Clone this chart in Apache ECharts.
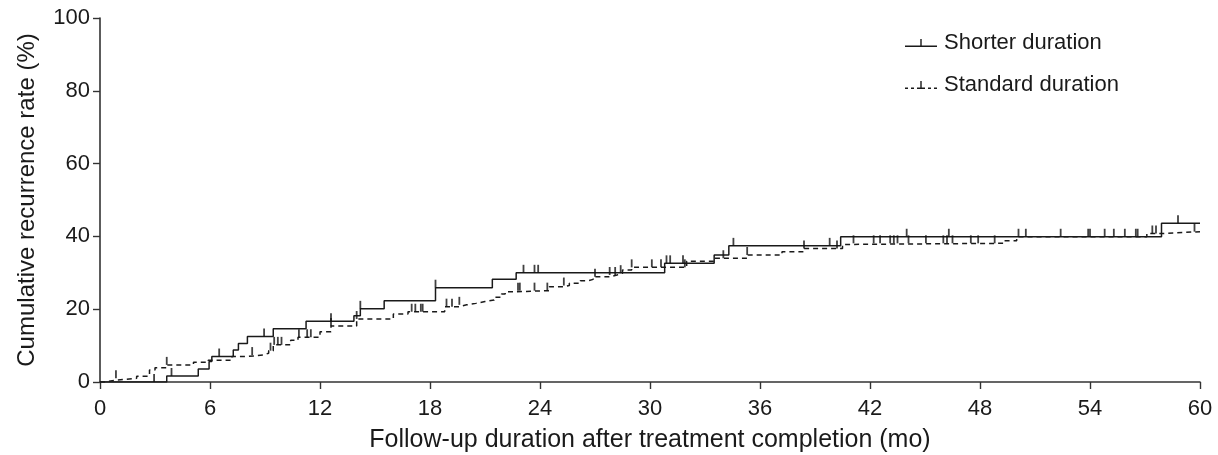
<!DOCTYPE html>
<html>
<head>
<meta charset="utf-8">
<script src="https://cdn.jsdelivr.net/npm/echarts@6/dist/echarts.min.js"></script>
<style>
  html, body { margin: 0; padding: 0; background: #fff; }
  #chart { width: 1218px; height: 455px; }
</style>
</head>
<body>
<div id="chart"></div>
<script>
// cumulative recurrence (%) by follow-up month
var shorterTime = [0, 3.64, 5.36, 5.95, 6.1, 7.27, 7.55, 8.04, 9.45, 11.24, 13.85, 14.2, 15.5, 18.3, 21.4, 22.7, 30.8, 33.5, 34.3, 40.4, 57.9, 60];
var shorterRate = [0, 1.65, 3.6, 5.6, 7.0, 8.8, 10.6, 12.5, 14.6, 16.7, 18.2, 20.1, 22.3, 25.9, 28.2, 30.0, 32.6, 34.9, 37.4, 39.9, 43.6, 43.6];
var shorterCensor = [2.95, 3.9, 6.5, 8.95, 12.6, 14.2, 18.3, 23.1, 23.7, 23.9, 30.9, 31.1, 31.8, 34.55, 39.8,
    44.0, 46.3, 50.1, 50.5, 52.4, 53.9, 54.0, 54.8, 55.3, 55.9, 56.5, 56.6, 58.8];

var standardTime = [0, 0.27, 0.87, 2.0, 2.7, 3.0, 3.64, 5.1, 5.9, 7.2, 8.0, 8.9, 9.2, 9.45, 10.4, 10.8, 12.0, 12.6, 14.0, 16.0,
    16.8, 18.8, 19.6, 20.0, 20.5, 21.0, 21.5, 21.9, 22.1, 22.7, 24.5, 25.3, 25.6, 26.2, 26.6, 26.9, 27.8, 28.2, 28.5, 29.0,
    32.0, 33.5, 35.3, 37.2, 38.4, 40.5, 40.9, 49.3, 50.0, 57.1, 58.0, 60];
var standardRate = [0, 0.5, 1.0, 1.6, 3.3, 3.9, 4.7, 5.4, 6.0, 7.0, 7.4, 7.9, 8.6, 10.2, 11.5, 12.3, 13.8, 15.4, 17.3, 18.7,
    19.3, 20.7, 21.2, 21.6, 22.1, 22.5, 23.3, 24.2, 24.8, 25.1, 26.2, 26.5, 27.1, 27.8, 28.2, 28.9, 29.4, 29.9, 30.8, 31.5,
    33.2, 34.0, 34.9, 35.8, 36.7, 37.8, 38.1, 38.8, 39.9, 40.8, 41.3, 41.3];
var standardCensor = [0.87, 3.64, 8.3, 9.3, 9.5, 9.7, 9.9, 10.85, 11.3, 11.5, 12.6, 14.0, 17.0, 17.2, 17.5, 17.6, 18.9, 19.2, 19.6,
    22.8, 22.9, 23.7, 24.4, 25.3, 27.0, 27.8, 28.1, 28.4, 29.0, 30.1, 30.6, 31.9, 34.0, 35.3, 38.4, 40.2, 41.1, 42.2, 42.55,
    43.1, 43.3, 43.5, 44.1, 45.05, 46.0, 46.2, 46.5, 47.5, 47.9, 48.8, 57.4, 57.6, 59.7];

var ink = '#1a1a1a';
var font = '"Liberation Sans", Arial, Helvetica, sans-serif';

function pairs(t, v) {
    return t.map(function (x, i) { return [x, v[i]]; });
}
// level of the step curve at time t (for censor marks)
function levelAt(t, times, rates) {
    var y = 0;
    for (var i = 0; i < times.length; i++) {
        if (times[i] <= t) y = rates[i];
    }
    return y;
}
function censorPoints(cs, times, rates) {
    return cs.map(function (t) { return [t, levelAt(t, times, rates)]; });
}

var solidIcon = 'path://M0,6.6 L32,6.6 L32,8 L0,8 Z M15.3,0 L16.7,0 L16.7,6.6 L15.3,6.6 Z';
var dashIcon = 'path://M0,6.6 L3,6.6 L3,8 L0,8 Z M6,6.6 L9,6.6 L9,8 L6,8 Z M12,6.6 L20,6.6 L20,8 L12,8 Z M15.3,0 L16.7,0 L16.7,6.6 L15.3,6.6 Z M23,6.6 L26,6.6 L26,8 L23,8 Z M29,6.6 L32,6.6 L32,8 L29,8 Z';

var myChart = echarts.init(document.getElementById('chart'));
var option = {
    animation: false,
    backgroundColor: '#fff',
    grid: { left: 100, right: 18, top: 18, bottom: 73, containLabel: false, outerBoundsMode: 'none' },
    legend: {
        orient: 'vertical',
        left: 900,
        top: 27,
        itemWidth: 32,
        itemHeight: 8,
        itemGap: 20,
        textStyle: { fontSize: 22, color: ink, fontFamily: font, padding: [6, 0, 0, 2] },
        data: [
            { name: 'Shorter duration', icon: solidIcon },
            { name: 'Standard duration', icon: dashIcon }
        ]
    },
    xAxis: {
        type: 'value',
        min: 0,
        max: 60,
        interval: 6,
        name: 'Follow-up duration after treatment completion (mo)',
        nameLocation: 'middle',
        nameGap: 46,
        nameTextStyle: { fontSize: 25, color: ink, fontFamily: font },
        axisLine: { onZero: false, lineStyle: { color: '#333', width: 1.6 } },
        axisTick: { show: true, length: 7, lineStyle: { color: '#333', width: 1.4 } },
        axisLabel: { fontSize: 22, color: ink, fontFamily: font, margin: 16 },
        splitLine: { show: false }
    },
    yAxis: {
        type: 'value',
        min: 0,
        max: 100,
        interval: 20,
        name: 'Cumulative recurrence rate (%)',
        nameLocation: 'middle',
        nameGap: 61,
        nameTextStyle: { fontSize: 24, color: ink, fontFamily: font },
        axisLine: { show: true, lineStyle: { color: '#333', width: 1.6 } },
        axisTick: { show: true, length: 7, lineStyle: { color: '#333', width: 1.4 } },
        axisLabel: { fontSize: 22, color: ink, fontFamily: font, margin: 10 },
        splitLine: { show: false }
    },
    series: [
        {
            name: 'Shorter duration',
            type: 'line',
            step: 'end',
            showSymbol: false,
            color: ink,
            lineStyle: { color: ink, width: 1.5 },
            data: pairs(shorterTime, shorterRate),
            z: 3
        },
        {
            name: 'Standard duration',
            type: 'line',
            step: 'end',
            showSymbol: false,
            color: ink,
            lineStyle: { color: ink, width: 1.5, type: [5, 4] },
            data: pairs(standardTime, standardRate),
            z: 3
        },
        {
            name: 'Shorter censored',
            type: 'scatter',
            symbol: 'rect',
            symbolSize: [1.8, 8],
            symbolOffset: [0, -4],
            itemStyle: { color: '#111' },
            data: censorPoints(shorterCensor, shorterTime, shorterRate),
            z: 4
        },
        {
            name: 'Standard censored',
            type: 'scatter',
            symbol: 'rect',
            symbolSize: [1.8, 8],
            symbolOffset: [0, -4],
            itemStyle: { color: '#111' },
            data: censorPoints(standardCensor, standardTime, standardRate),
            z: 4
        }
    ]
};
myChart.setOption(option);
</script>
</body>
</html>
